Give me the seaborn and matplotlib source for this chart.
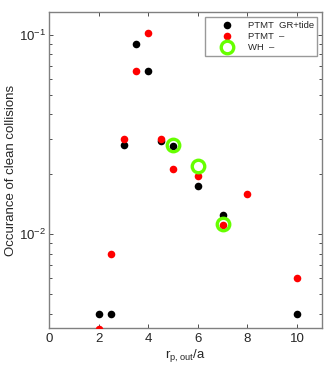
import pandas as pd
import matplotlib
matplotlib.use("Agg")
import matplotlib.pyplot as plt
import matplotlib.ticker as mticker
import seaborn as sns

# values
x_gr = [2, 2.5, 3, 3.5, 4, 4.5, 5, 6, 7, 10]
y_gr = [0.0040, 0.0040, 0.0279, 0.0898, 0.0659, 0.0294, 0.0277, 0.0175, 0.0125, 0.0040]

x_pt = [2, 2.5, 3, 3.5, 4, 4.5, 5, 6, 7, 8, 10]
y_pt = [0.00334, 0.0080, 0.0301, 0.0659, 0.102, 0.0301, 0.0213, 0.0195, 0.0111, 0.0160, 0.0060]

x_wh = [5, 6, 7]
y_wh = [0.0279, 0.0220, 0.0113]

labels = ["PTMT  GR+tide", "PTMT  \u2013", "WH  \u2013"]
x_ticks = [0, 2, 4, 6, 8, 10]

sns.set_style("ticks")
plt.rcParams["font.family"] = ["Liberation Sans", "DejaVu Sans"]
plt.rcParams["mathtext.fontset"] = "custom"
plt.rcParams["mathtext.rm"] = "Liberation Sans"

fig = plt.figure(figsize=(3.3, 3.69), dpi=100)
ax = fig.add_axes([0.149, 0.110, 0.826, 0.857])

df_gr = pd.DataFrame({"x": x_gr, "y": y_gr})
df_pt = pd.DataFrame({"x": x_pt, "y": y_pt})
df_wh = pd.DataFrame({"x": x_wh, "y": y_wh})

sns.scatterplot(data=df_gr, x="x", y="y", ax=ax, color="black", s=30,
                linewidth=0, label=labels[0], zorder=3)
sns.scatterplot(data=df_pt, x="x", y="y", ax=ax, color="red", s=30,
                linewidth=0, label=labels[1], zorder=4)
ax.plot(df_wh["x"], df_wh["y"], linestyle="none", marker="o", markersize=9,
        markerfacecolor="none", markeredgecolor="#66ff00", markeredgewidth=2.4,
        label=labels[2], zorder=5)

ax.set_yscale("log")
ax.set_xlim(0, 11)
ax.set_ylim(0.00337, 0.13)
ax.set_xticks(x_ticks)
ax.yaxis.set_minor_formatter(mticker.NullFormatter())
ax.tick_params(which="both", direction="in", top=True, right=True,
               labelsize=9.5, length=3, width=0.6, color="#333333")
ax.tick_params(which="minor", length=2)
ax.tick_params(axis="y", which="major", pad=2)
for sp in ax.spines.values():
    sp.set_color("#808080")
    sp.set_linewidth(1.0)

ax.set_xlabel(r"$\mathregular{r_{p,out}/a}$", fontsize=9.5, labelpad=1)
ax.set_ylabel("Occurance of clean collisions", fontsize=9.5, labelpad=2)

leg = ax.legend(loc="upper right", fontsize=6.8, frameon=True, fancybox=False,
                borderpad=0.35, labelspacing=0.25, handletextpad=0.2,
                handlelength=4.0, borderaxespad=0,
                bbox_to_anchor=(0.983, 0.984))
leg.get_frame().set_edgecolor("#808080")
leg.get_frame().set_linewidth(1.0)

fig.savefig("out.png", dpi=100)
